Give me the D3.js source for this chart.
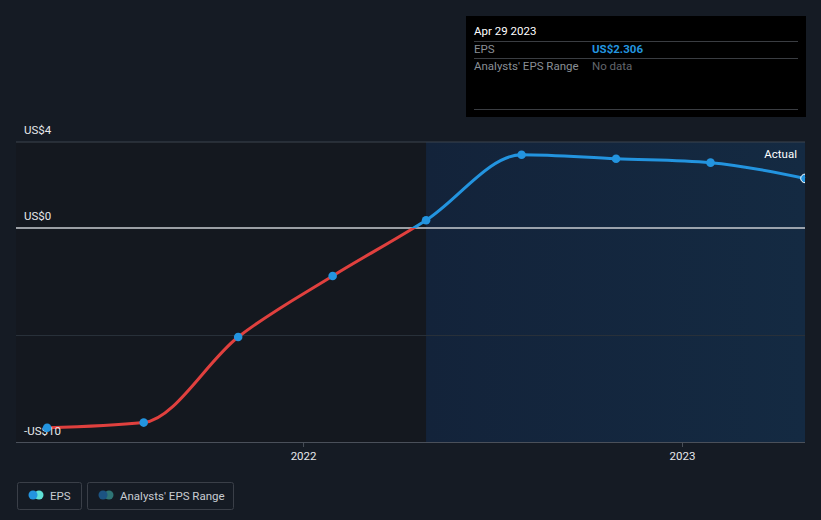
<!DOCTYPE html>
<html><head><meta charset="utf-8">
<script src="https://cdn.jsdelivr.net/npm/d3@7/dist/d3.min.js"></script>
<style>
html,body{margin:0;padding:0;background:#151b24;}
svg{display:block;font-family:Roboto,"Noto Sans",sans-serif;}
</style></head>
<body>
<svg id="c" width="821" height="520"></svg>
<script>
const dates = ["2021-04-29","2021-07-31","2021-10-30","2022-01-29","2022-04-29","2022-07-30","2022-10-29","2023-01-28","2023-04-29"];
const eps = [-9.29, -9.05, -5.07, -2.23, 0.36, 3.41, 3.22, 3.04, 2.306];
const yTicks = [4, 0, -5, -10];
const yTickLabels = ["US$4", "US$0", "", "-US$10"];
const xTicks = ["2022-01-01", "2023-01-01"];
const xTickLabels = ["2022", "2023"];
const domainStart = "2021-03-30";
const domainEnd = "2023-04-29";
const actualStart = "2022-04-29";

const p = d3.timeParse("%Y-%m-%d");
const data = dates.map((d,i)=>({date:p(d), v:eps[i]}));
const svg = d3.select("#c");
const L=16, R=805, T=142, B=443;
const x = d3.scaleTime().domain([p(domainStart), p(domainEnd)]).range([L,R]);
const y = d3.scaleLinear().domain([-10,4]).range([B,T]);

const defs = svg.append("defs");
const g1 = defs.append("linearGradient").attr("id","act").attr("x1","0").attr("x2","1");
g1.append("stop").attr("offset","0").attr("stop-color","#13233a");
g1.append("stop").attr("offset","1").attr("stop-color","#142a42");

svg.append("rect").attr("x",L).attr("y",T).attr("width",x(p(actualStart))-L).attr("height",B-T).attr("fill","#14181f");
svg.append("rect").attr("x",x(p(actualStart))).attr("y",T).attr("width",R-x(p(actualStart))).attr("height",B-T).attr("fill","url(#act)");

yTicks.forEach((t,i)=>{
  if(t===-10) return;
  svg.append("line").attr("x1",L).attr("x2",R).attr("y1",y(t)).attr("y2",y(t))
    .attr("stroke", t===0 ? "#c8ccd2" : (t===4 ? "#3d444e" : "#283039"))
    .attr("stroke-width", t===0 ? 1.5 : 1);
});
svg.append("line").attr("x1",L).attr("x2",R).attr("y1",B-0.5).attr("y2",B-0.5).attr("stroke","#4a505a");
xTicks.forEach((t,i)=>{
  const xx = x(p(t));
  svg.append("line").attr("x1",xx).attr("x2",xx).attr("y1",B).attr("y2",B+4).attr("stroke","#4a505a");
  svg.append("text").attr("x",xx).attr("y",B+17).attr("text-anchor","middle").attr("fill","#e6e8eb").attr("font-size",11.5).text(xTickLabels[i]);
});

const line = d3.line().x(d=>x(d.date)).y(d=>y(d.v)).curve(d3.curveMonotoneX);
defs.append("clipPath").attr("id","pos").append("rect").attr("x",0).attr("y",0).attr("width",821).attr("height",y(0));
defs.append("clipPath").attr("id","neg").append("rect").attr("x",0).attr("y",y(0)).attr("width",821).attr("height",520);
defs.append("clipPath").attr("id","plot").append("rect").attr("x",0).attr("y",0).attr("width",R).attr("height",520);
svg.append("path").datum(data).attr("d",line).attr("fill","none").attr("stroke","#e0403e").attr("stroke-width",3).attr("clip-path","url(#neg)");
svg.append("path").datum(data).attr("d",line).attr("fill","none").attr("stroke","#2394df").attr("stroke-width",3).attr("clip-path","url(#pos)");

yTicks.forEach((t,i)=>{
  if(!yTickLabels[i]) return;
  svg.append("text").attr("x",24).attr("y",y(t)-8).attr("fill","#e6e8eb").attr("font-size",11.5).text(yTickLabels[i]);
});

const pts = svg.append("g").attr("clip-path","url(#plot)");
data.forEach((d,i)=>{
  const last = i===data.length-1;
  pts.append("circle").attr("cx",x(d.date)).attr("cy",y(d.v)).attr("r",4.3)
    .attr("fill","#2394df").attr("stroke", last ? "#ffffff" : "none").attr("stroke-width", last?1:0);
});

svg.append("text").attr("x",797).attr("y",158).attr("text-anchor","end").attr("fill","#ffffff").attr("font-size",11.5).text("Actual");

const tt = svg.append("g");
tt.append("rect").attr("x",466).attr("y",16).attr("width",340).attr("height",101).attr("fill","#000000");
tt.append("text").attr("x",474).attr("y",35).attr("fill","#ffffff").attr("font-size",11.5).text("Apr 29 2023");
[41,58,109].forEach(yy=>tt.append("line").attr("x1",474).attr("x2",798).attr("y1",yy+0.5).attr("y2",yy+0.5).attr("stroke","#3a3d42"));
tt.append("text").attr("x",474).attr("y",53).attr("fill","#8a8f96").attr("font-size",11.5).text("EPS");
tt.append("text").attr("x",592).attr("y",53).attr("fill","#2394df").attr("font-size",11.5).attr("font-weight","bold").text("US$" + eps[eps.length-1].toFixed(3));
tt.append("text").attr("x",474).attr("y",70).attr("fill","#8a8f96").attr("font-size",11.5).text("Analysts' EPS Range");
tt.append("text").attr("x",592).attr("y",70).attr("fill","#62666c").attr("font-size",11.5).text("No data");

const lg = svg.append("g");
lg.append("rect").attr("x",17.5).attr("y",482.5).attr("width",64).attr("height",27).attr("rx",2).attr("fill","none").attr("stroke","#3a3f48");
lg.append("circle").attr("cx",39).attr("cy",495).attr("r",4.5).attr("fill","#5fe0d6");
lg.append("circle").attr("cx",33).attr("cy",495).attr("r",4.5).attr("fill","#2394df");
lg.append("text").attr("x",50).attr("y",499.5).attr("fill","#c8ccd2").attr("font-size",11.5).text("EPS");
lg.append("rect").attr("x",87.5).attr("y",482.5).attr("width",146).attr("height",27).attr("rx",2).attr("fill","none").attr("stroke","#3a3f48");
lg.append("circle").attr("cx",109).attr("cy",495).attr("r",4.5).attr("fill","#2e7475");
lg.append("circle").attr("cx",103).attr("cy",495).attr("r",4.5).attr("fill","#1c5382");
lg.append("text").attr("x",120).attr("y",499.5).attr("fill","#c8ccd2").attr("font-size",11.5).text("Analysts' EPS Range");
</script>
</body></html>
